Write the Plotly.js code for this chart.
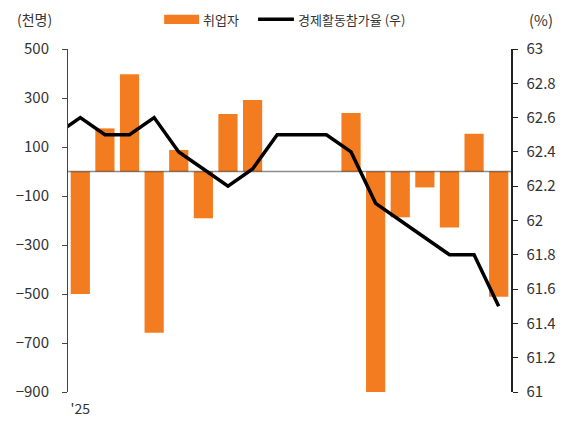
<!DOCTYPE html>
<html>
<head>
<meta charset="utf-8">
<script src="https://cdn.plot.ly/plotly-3.0.1.min.js"></script>
<style>
  html, body { margin: 0; padding: 0; background: #fff; }
  #chart { width: 574px; height: 434px; }
</style>
</head>
<body>
<div id="chart"></div>
<script>
// index positions of the months; -1 is the month before '25, cut off by the axis
const periods = [-1, 0, 1, 2, 3, 4, 5, 6, 7, 8, 9, 10, 11, 12, 13, 14, 15, 16, 17];
// employment change, thousand persons (no bars for 8-10)
const employed = [null, -500, 176, 397, -658, 88, -191, 235, 292, null, null, null, 239, -900, -187, -65, -229, 154, -511];
// participation rate, % (right axis)
const participation = [62.5, 62.6, 62.5, 62.5, 62.6, 62.4, 62.3, 62.2, 62.3, 62.5, 62.5, 62.5, 62.4, 62.1, 62.0, 61.9, 61.8, 61.8, 61.5];
const tickPos = [0];
const tickLabels = ["'25"];

const orange = '#f47c20';
const font = 'Noto Sans CJK KR, Noto Sans, sans-serif';

const traces = [
  {
    type: 'bar',
    name: '취업자',
    x: periods,
    y: employed,
    width: 0.78,
    marker: { color: orange },
    yaxis: 'y',
    hoverinfo: 'skip'
  },
  {
    type: 'scatter',
    mode: 'lines',
    name: '경제활동참가율 (우)',
    x: periods,
    y: participation,
    line: { color: '#000', width: 3.5 },
    yaxis: 'y2',
    hoverinfo: 'skip'
  }
];

const layout = {
  width: 574,
  height: 434,
  margin: { l: 68, r: 63, t: 49, b: 42 },
  paper_bgcolor: '#fff',
  plot_bgcolor: '#fff',
  showlegend: false,
  font: { family: font, color: '#333', size: 14 },
  xaxis: {
    range: [-0.5, 17.5],
    tickvals: tickPos,
    ticktext: tickLabels,
    showgrid: false,
    zeroline: false,
    showline: false,
    ticks: '',
    ticklabelstandoff: 7,
    tickfont: { size: 14, color: '#333' }
  },
  yaxis: {
    range: [-900, 500],
    tickvals: [500, 300, 100, -100, -300, -500, -700, -900],
    showgrid: false,
    zeroline: false,
    showline: true,
    linecolor: '#444',
    linewidth: 1,
    ticks: 'outside',
    ticklen: 5,
    tickcolor: '#444',
    ticklabelstandoff: 10,
    tickfont: { size: 15, color: '#333' }
  },
  yaxis2: {
    overlaying: 'y',
    side: 'right',
    range: [61, 63],
    dtick: 0.2,
    tick0: 61,
    showgrid: false,
    zeroline: false,
    showline: true,
    linecolor: '#222',
    linewidth: 1.5,
    ticks: 'outside',
    ticklen: 5,
    tickcolor: '#222',
    ticklabelstandoff: 6,
    tickfont: { size: 15, color: '#333' }
  },
  shapes: [
    { type: 'line', xref: 'paper', yref: 'y', x0: 0, x1: 1, y0: 0, y1: 0,
      line: { color: 'rgba(0,0,0,0.45)', width: 1.5 }, layer: 'above' },
    // legend swatches
    { type: 'rect', xref: 'paper', yref: 'paper', x0: 0.217, x1: 0.296, y0: 1.073, y1: 1.1,
      fillcolor: orange, line: { width: 0 } },
    { type: 'line', xref: 'paper', yref: 'paper', x0: 0.429, x1: 0.51, y0: 1.087, y1: 1.087,
      line: { color: '#000', width: 3.5 } }
  ],
  annotations: [
    { xref: 'paper', yref: 'paper', x: -0.12, y: 1.087, xanchor: 'left', yanchor: 'middle',
      text: '(천명)', showarrow: false, font: { size: 14, color: '#333' } },
    { xref: 'paper', yref: 'paper', x: 1.1, y: 1.087, xanchor: 'right', yanchor: 'middle',
      text: '(%)', showarrow: false, font: { size: 15, color: '#333' } },
    { xref: 'paper', yref: 'paper', x: 0.3, y: 1.087, xanchor: 'left', yanchor: 'middle',
      text: '취업자', showarrow: false, font: { size: 13, color: '#333' } },
    { xref: 'paper', yref: 'paper', x: 0.514, y: 1.087, xanchor: 'left', yanchor: 'middle',
      text: '경제활동참가율 (우)', showarrow: false, font: { size: 13, color: '#333' } }
  ]
};

Plotly.newPlot('chart', traces, layout, { displayModeBar: false, staticPlot: true });
</script>
</body>
</html>
